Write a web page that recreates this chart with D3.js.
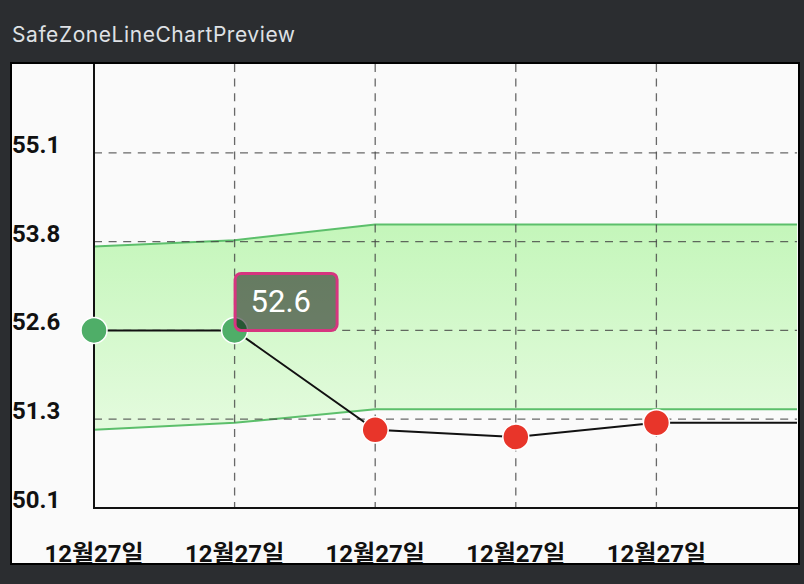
<!DOCTYPE html>
<html>
<head>
<meta charset="utf-8">
<script src="https://cdn.jsdelivr.net/npm/d3@7"></script>
<style>
  body { margin: 0; background: #2b2d30; }
  svg { display: block; }
</style>
</head>
<body>
<svg id="chart" width="804" height="584"></svg>
<script>
var Width = 804, Height = 584;

var dates = ["12월27일", "12월27일", "12월27일", "12월27일", "12월27일", "12월27일"];
var values = [52.6, 52.6, 51.2, 51.1, 51.3, 51.3];
var zoneTop = [53.78, 53.87, 54.09, 54.09, 54.09, 54.09];
var zoneBottom = [51.2, 51.3, 51.49, 51.49, 51.49, 51.49];
var yTicks = [50.1, 51.35, 52.6, 53.85, 55.1];
var yTickLabels = ["50.1", "51.3", "52.6", "53.8", "55.1"];
var labelCount = 5;     // dates that get a label / marker
var selected = 1;       // point showing the tooltip

var svg = d3.select("#chart");

svg.append("rect")
  .attr("width", Width).attr("height", Height)
  .attr("fill", "#2b2d30");

svg.append("text")
  .attr("x", 12).attr("y", 42)
  .attr("fill", "#dfe1e5")
  .style("font-family", "Inter, Roboto, sans-serif")
  .style("font-size", "21px")
  .attr("textLength", 283)
  .text("SafeZoneLineChartPreview");

// panel
var panel = { x: 11, y: 63, w: 788, h: 501 };

svg.append("clipPath").attr("id", "panelClip")
  .append("rect")
  .attr("x", panel.x).attr("y", panel.y)
  .attr("width", panel.w).attr("height", panel.h);

svg.append("rect")
  .attr("x", panel.x).attr("y", panel.y)
  .attr("width", panel.w).attr("height", panel.h)
  .attr("fill", "#fafafa");

var g = svg.append("g").attr("clip-path", "url(#panelClip)");

var x = d3.scaleLinear().domain([0, 5]).range([94, 797]);
var y = d3.scaleLinear().domain([50.1, 56.35]).range([508, 64]);

// gradient for the safe zone
var grad = svg.append("defs").append("linearGradient")
  .attr("id", "zoneGrad")
  .attr("x1", 0).attr("y1", 0).attr("x2", 0).attr("y2", 1);
grad.append("stop").attr("offset", "0%").attr("stop-color", "#c4f6ba");
grad.append("stop").attr("offset", "100%").attr("stop-color", "#e4fbde");

var zone = d3.area()
  .x(function(d, i){ return x(i); })
  .y0(function(d, i){ return y(zoneBottom[i]); })
  .y1(function(d, i){ return y(zoneTop[i]); });

g.append("path")
  .datum(dates)
  .attr("d", zone)
  .attr("fill", "url(#zoneGrad)");

var edge = function(arr){
  return d3.line()
    .x(function(d, i){ return x(i); })
    .y(function(d){ return y(d); })(arr);
};

g.append("path").attr("d", edge(zoneTop))
  .attr("fill", "none").attr("stroke", "#5cbf6b").attr("stroke-width", 2);
g.append("path").attr("d", edge(zoneBottom))
  .attr("fill", "none").attr("stroke", "#5cbf6b").attr("stroke-width", 2);

// grid
var gridStyle = function(sel){
  sel.attr("stroke", "#444")
    .attr("stroke-opacity", 0.8)
    .attr("stroke-width", 1.3)
    .attr("stroke-dasharray", "8,6.6");
};

g.selectAll(".vgrid")
  .data(d3.range(1, labelCount))
  .enter().append("line")
  .attr("class", "vgrid")
  .attr("x1", function(d){ return x(d); })
  .attr("x2", function(d){ return x(d); })
  .attr("y1", y.range()[1]).attr("y2", y.range()[0])
  .call(gridStyle);

g.selectAll(".hgrid")
  .data(yTicks.slice(1))
  .enter().append("line")
  .attr("class", "hgrid")
  .attr("x1", x(0)).attr("x2", x.range()[1])
  .attr("y1", function(d){ return y(d); })
  .attr("y2", function(d){ return y(d); })
  .call(gridStyle);

// axes lines
g.append("line")
  .attr("x1", x(0)).attr("x2", x(0))
  .attr("y1", panel.y).attr("y2", y(50.1) + 1)
  .attr("stroke", "#111").attr("stroke-width", 2);
g.append("line")
  .attr("x1", x(0) - 1).attr("x2", panel.x + panel.w)
  .attr("y1", y(50.1)).attr("y2", y(50.1))
  .attr("stroke", "#111").attr("stroke-width", 2);

// y labels
g.selectAll(".ylab")
  .data(yTicks)
  .enter().append("text")
  .attr("class", "ylab")
  .attr("x", 12)
  .attr("y", function(d){ return y(d); })
  .attr("fill", "#111")
  .style("font-family", "Roboto, sans-serif")
  .style("font-weight", "bold")
  .style("font-size", "24px")
  .text(function(d, i){ return yTickLabels[i]; });

// x labels
g.selectAll(".xlab")
  .data(dates.slice(0, labelCount))
  .enter().append("text")
  .attr("class", "xlab")
  .attr("x", function(d, i){ return x(i); })
  .attr("y", 562)
  .attr("text-anchor", "middle")
  .attr("fill", "#111")
  .style("font-family", "Roboto, 'Noto Sans CJK KR', sans-serif")
  .style("font-weight", "bold")
  .style("font-size", "24px")
  .text(function(d){ return d; });

// value line
var line = d3.line()
  .x(function(d, i){ return x(i); })
  .y(function(d){ return y(d); });

g.append("path")
  .datum(values)
  .attr("d", line)
  .attr("fill", "none")
  .attr("stroke", "#111")
  .attr("stroke-width", 2);

// points, green inside the zone, red outside
g.selectAll(".pt")
  .data(values.slice(0, labelCount))
  .enter().append("circle")
  .attr("class", "pt")
  .attr("cx", function(d, i){ return x(i); })
  .attr("cy", function(d){ return y(d); })
  .attr("r", 13)
  .attr("fill", function(d, i){
    return (d >= zoneBottom[i] && d <= zoneTop[i]) ? "#4fae68" : "#e8352a";
  })
  .attr("stroke", "#fff")
  .attr("stroke-width", 1.5);

// tooltip
var tx = x(selected), ty = y(values[selected]);
var tip = g.append("g").attr("transform", "translate(" + tx + "," + ty + ")");
tip.append("rect")
  .attr("x", 0.5).attr("y", -57)
  .attr("width", 102).attr("height", 57)
  .attr("rx", 6).attr("ry", 6)
  .attr("fill", "rgba(0,0,0,0.5)")
  .attr("stroke", "#d6357f")
  .attr("stroke-width", 3);
tip.append("text")
  .attr("x", 16).attr("y", -18)
  .attr("fill", "#fff")
  .style("font-family", "Roboto, sans-serif")
  .style("font-size", "31px")
  .text(values[selected].toFixed(1));

// panel border on top
svg.append("rect")
  .attr("x", panel.x).attr("y", panel.y)
  .attr("width", panel.w).attr("height", panel.h)
  .attr("fill", "none")
  .attr("stroke", "#000")
  .attr("stroke-width", 2);
</script>
</body>
</html>
